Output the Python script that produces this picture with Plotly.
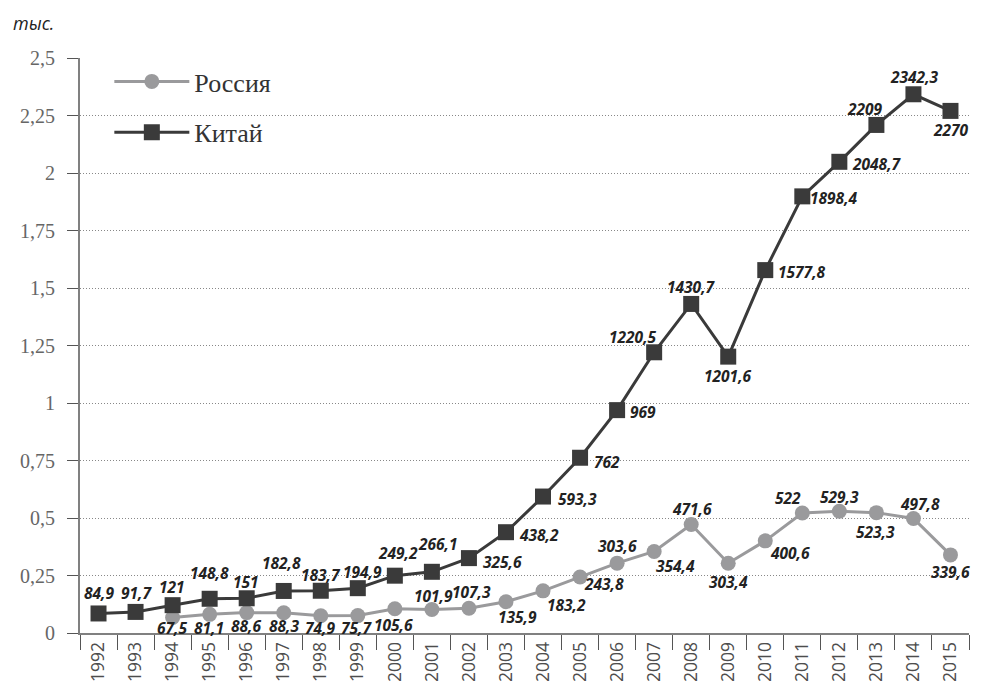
import plotly.graph_objects as go

years = [str(y) for y in range(1992, 2016)]

# values in units (thousands on axis)
china = [84.9, 91.7, 121, 148.8, 151, 182.8, 183.7, 194.9, 249.2, 266.1, 325.6, 438.2,
         593.3, 762, 969, 1220.5, 1430.7, 1201.6, 1577.8, 1898.4, 2048.7, 2209, 2342.3, 2270]
russia_years = [str(y) for y in range(1994, 2016)]
russia = [67.5, 81.1, 88.6, 88.3, 74.9, 75.7, 105.6, 101.9, 107.3, 135.9, 183.2, 243.8,
          303.6, 354.4, 471.6, 303.4, 400.6, 522, 529.3, 523.3, 497.8, 339.6]

# label offsets in px from marker centre (dx right, dy down)
china_off = [(0, -20), (1, -19), (-1, -18), (0, -26), (-1, -16), (-2, -28), (0, -16), (5, -16),
             (3, -23), (6, -28), (34, 4), (33, 3), (34, 2), (27, 4), (26, 2), (-21, -15),
             (0, -17), (0, 19), (37, 2), (32, 2), (38, 2), (-11, -16), (1, -17), (1, 19)]
russia_off = [(-1, 11), (-1, 14), (-1, 13), (0, 13), (-1, 12), (-1, 12), (-1, 16), (2, -14),
              (3, -16), (12, 15), (23, 14), (24, 7), (0, -17), (21, 15), (1, -16), (0, 19),
              (25, 12), (-14, -15), (0, -14), (-1, 19), (7, -15), (0, 17)]

y_ticks = [0, 0.25, 0.5, 0.75, 1, 1.25, 1.5, 1.75, 2, 2.25, 2.5]
y_labels = ["0", "0,25", "0,5", "0,75", "1", "1,25", "1,5", "1,75", "2", "2,25", "2,5"]


def fmt(v):
    s = f"{v:g}"
    return s.replace(".", ",")


label_font = dict(family="Open Sans", size=15.5, color="#222222", weight="bold", style="italic")

fig = go.Figure()

fig.add_trace(go.Scatter(
    x=russia_years, y=[v / 1000 for v in russia],
    mode="lines+markers", name="Россия", legendgroup="ru",
    line=dict(color="#9a9a9c", width=3),
    marker=dict(symbol="circle", size=15, color="#9a9a9c"),
    cliponaxis=False,
))

fig.add_trace(go.Scatter(
    x=years, y=[v / 1000 for v in china],
    mode="lines+markers", name="Китай", legendgroup="cn",
    line=dict(color="#3a3a3a", width=3),
    marker=dict(symbol="square", size=16, color="#3a3a3a"),
    cliponaxis=False,
))

# data labels (category index, since year strings look numeric to annotations)
for xs, vals, offs in [(russia_years, russia, russia_off), (years, china, china_off)]:
    for x, v, (dx, dy) in zip(xs, vals, offs):
        fig.add_annotation(x=years.index(x), y=v / 1000, text=fmt(v), showarrow=False,
                           xanchor="center", yanchor="middle", xshift=dx, yshift=-dy,
                           font=label_font)

fig.add_annotation(text="<i>тыс.</i>", xref="paper", yref="paper", x=-0.078, y=1.061,
                   xanchor="left", yanchor="middle", showarrow=False,
                   font=dict(family="Open Sans", size=18, color="#222222"))

fig.update_layout(
    width=970, height=673,
    margin=dict(l=72, r=9, t=50, b=48, autoexpand=False),
    paper_bgcolor="white", plot_bgcolor="white",
    showlegend=True,
    legend=dict(x=0.033, y=1.0, xanchor="left", yanchor="top",
                font=dict(family="Liberation Serif", size=26, color="#333333"),
                bgcolor="rgba(0,0,0,0)", itemwidth=75, traceorder="grouped",
                tracegroupgap=14),
    xaxis=dict(
        type="category", categoryorder="array", categoryarray=years,
        showline=True, linecolor="#808080", linewidth=2, automargin=False,
        ticks="outside", tickson="boundaries", ticklen=15, tickcolor="#555555",
        tickangle=-90, tickfont=dict(family="Open Sans", size=17.5, color="#4d4d4d"),
        showgrid=False, range=[-0.5, 23.5],
    ),
    yaxis=dict(
        range=[0, 2.5], tickvals=y_ticks, ticktext=y_labels, automargin=False,
        showline=True, linecolor="#808080", linewidth=2,
        ticks="outside", ticklen=11, tickcolor="#555555", ticklabelstandoff=8,
        tickfont=dict(family="Liberation Serif", size=20, color="#666666"),
        showgrid=True, gridcolor="#888888", griddash="1px,2px", gridwidth=1,
        zeroline=False,
    ),
)

fig.write_html("out.html")
